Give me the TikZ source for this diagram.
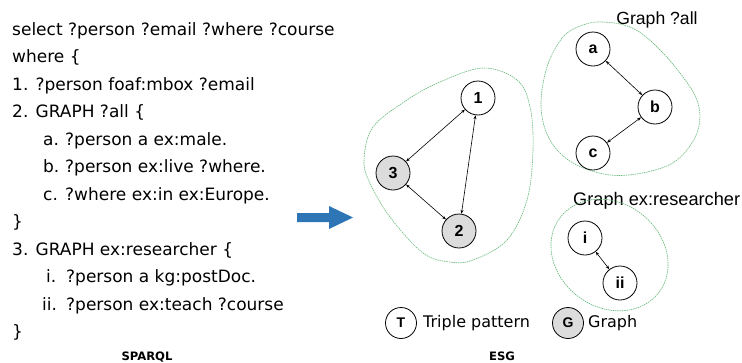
\documentclass[tikz,border=0pt]{standalone}
\usepackage{fontspec}
\setmainfont{DejaVu Sans}
\newfontfamily\arialfont{Liberation Sans}
\usetikzlibrary{arrows.meta}
\definecolor{blobgreen}{RGB}{100,185,120}
\definecolor{nodegray}{RGB}{220,220,220}
\definecolor{arrowblue}{RGB}{46,117,182}
\begin{document}
\begin{tikzpicture}[x=1pt,y=-1pt,
 code/.style={anchor=base west, inner sep=0pt, font=\fontsize{17}{20}\selectfont},
 tp/.style={circle, draw, line width=0.8pt, minimum size=34pt, inner sep=0pt, font=\arialfont\bfseries\fontsize{16}{18}\selectfont},
 gp/.style={tp, fill=nodegray},
 legtp/.style={tp, minimum size=31pt, font=\arialfont\bfseries\fontsize{14}{16}\selectfont},
 leggp/.style={legtp, fill=nodegray},
 link/.style={{Stealth[length=4pt,width=3pt]}-{Stealth[length=4pt,width=3pt]}, line width=0.6pt},
 blob/.style={draw=blobgreen, line width=0.6pt, dash pattern=on 1.5pt off 0.8pt},
 gtitle/.style={anchor=base, inner sep=0pt, font=\arialfont\fontsize{17.6}{20}\selectfont},
 legtext/.style={anchor=west, inner sep=0pt, font=\fontsize{16}{18}\selectfont},
 caption/.style={anchor=base, inner sep=0pt, font=\bfseries\fontsize{11.6}{13}\selectfont},
]
\useasboundingbox (0,0) rectangle (742,362);

% SPARQL query
\node[code] (l0) at (12,35) {select ?person ?email ?where ?course};
\node[code] (l1) at (12,62.5) {where \{};
\node[code] (l2) at (12,90) {1. ?person foaf:mbox ?email};
\node[code] (l3) at (12,117.5) {2. GRAPH ?all \{};
\node[code] (l4a) at (43,145) {a.};
\node[code] (l4) at (65,145) {?person a ex:male.};
\node[code] (l5a) at (43,172.5) {b.};
\node[code] (l5) at (65,172.5) {?person ex:live ?where.};
\node[code] (l6a) at (43,200) {c.};
\node[code] (l6) at (65,200) {?where ex:in ex:Europe.};
\node[code] (l7) at (12,227.5) {\}};
\node[code] (l8) at (12,255) {3. GRAPH ex:researcher \{};
\node[code] (l9a) at (46,282.5) {i.};
\node[code] (l9) at (66,282.5) {?person a kg:postDoc.};
\node[code] (l10a) at (42,310) {ii.};
\node[code] (l10) at (66,310) {?person ex:teach ?course};
\node[code] (l11) at (12,337.5) {\}};
\node[caption] (sparql) at (147,360) {SPARQL};

% blue arrow
\fill[arrowblue] (297,213) -- (329,213) -- (329,206) -- (353,217.5) -- (329,229) -- (329,222) -- (297,222) -- cycle;

% ESG main graph
\draw[blob] plot[smooth cycle, tension=0.6] coordinates {(483,68) (517,80) (530,107) (533,150) (527,200) (507,240) (473,260) (450,262) (423,253) (390,217) (370,183) (364,160) (373,127) (407,100) (440,82)};
\node[tp] (n1) at (478,98) {1};
\node[gp] (n3) at (393,173) {3};
\node[gp] (n2) at (459,231) {2};
\draw[link] (n1) -- (n3);
\draw[link] (n1) -- (n2);
\draw[link] (n3) -- (n2);

% Graph ?all
\node[gtitle] (tall) at (657,24) {Graph ?all};
\draw[blob] plot[smooth cycle, tension=0.6] coordinates {(603,22) (630,27) (653,43) (680,73) (698,103) (697,133) (677,160) (647,172) (610,175) (573,163) (550,140) (541,107) (547,67) (563,37) (583,25)};
\node[tp] (na) at (593,49) {a};
\node[tp] (nb) at (655,107) {b};
\node[tp] (nc) at (593,153) {c};
\draw[link] (na) -- (nb);
\draw[link] (nb) -- (nc);

% Graph ex:researcher
\node[gtitle, anchor=base west, font=\arialfont\fontsize{18.2}{20}\selectfont] (tres) at (573,205) {Graph ex:researcher};
\begin{scope}[shift={(609.5,255)}, rotate=-37]
\draw[blob] (0,0) ellipse [x radius=62, y radius=52];
\end{scope}
\node[tp] (ni) at (585,238) {i};
\node[tp] (nii) at (620,283) {ii};
\draw[link] (ni) -- (nii);

% legend
\node[legtp] (legT) at (401,323) {T};
\node[legtext] (legTt) at (423,323) {Triple pattern};
\node[leggp] (legG) at (568,323) {G};
\node[legtext] (legGt) at (588,323) {Graph};
\node[caption] (esg) at (502,360) {ESG};
\end{tikzpicture}
\end{document}
